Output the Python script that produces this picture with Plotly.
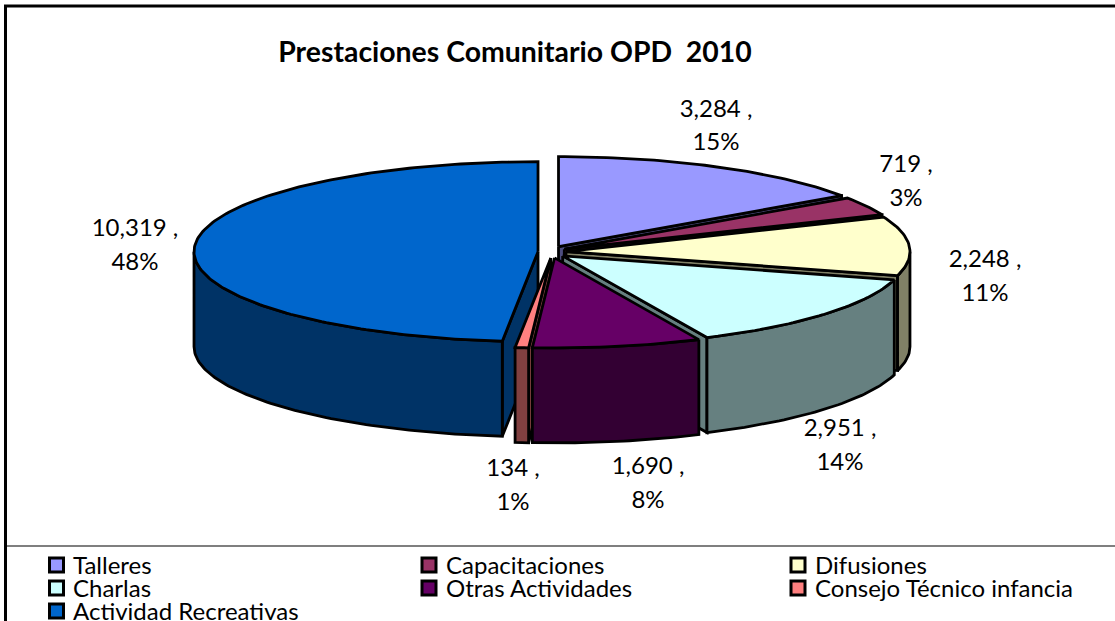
import math
import plotly.graph_objects as go

# --- data ---
categories = ["Talleres", "Capacitaciones", "Difusiones", "Charlas",
              "Otras Actividades", "Consejo Técnico infancia", "Actividad Recreativas"]
values = [3284, 719, 2248, 2951, 1690, 134, 10319]
title_text = "Prestaciones Comunitario OPD  2010"

# --- styles ---
top_colors = ["#9999FF", "#993366", "#FFFFCC", "#CCFFFF", "#660066", "#FF8080", "#0066CC"]
wall_colors = ["#4D4D80", "#4D1A33", "#808066", "#668080", "#330033", "#804040", "#003366"]
FONT = "Lato, Carlito, sans-serif"
LW = 2.8

# --- pie geometry (pixel space) ---
CX, CY = 552, 252
RX, RY = 344, 90
DEPTH = 95
EX, EY = 14, 6
draw_order = [0, 1, 2, 3, 6, 5, 4]

label_anchor = [(716, 111, 144), (906, 166, 200), (985, 261, 295), (840, 430, 464),
                (648, 468, 502), (513, 470, 504), (135, 230, 264)]
legend_swatch = [(56.5, 565), (429, 565), (798, 565), (56.5, 588), (429, 588), (798, 588), (56.5, 611)]
legend_text_x = [73, 446, 815, 73, 446, 815, 73]
legend_text_y = [568, 568, 568, 591, 591, 591, 614]

total = sum(values)
fig = go.Figure()


def add_poly(xs, ys, color, name):
    fig.add_trace(go.Scatter(x=xs + xs[:1], y=ys + ys[:1], mode="lines", fill="toself",
                             fillcolor=color, line=dict(color="black", width=LW),
                             showlegend=False, hoverinfo="name", name=name))


def pt(cx, cy, deg):
    r = math.radians(deg)
    return cx + RX * math.sin(r), cy - RY * math.cos(r)


starts = []
acc = 0.0
for v in values:
    starts.append(acc)
    acc += v / total * 360

for i in draw_order:
    a0 = starts[i]
    a1 = a0 + values[i] / total * 360
    mid = math.radians((a0 + a1) / 2)
    cx = CX + EX * math.sin(mid)
    cy = CY - EY * math.cos(mid)
    name = categories[i]
    # flat cut faces that look towards the viewer
    faces = []
    if math.sin(math.radians(a1)) > 0:
        faces.append(a1)
    if math.sin(math.radians(a0)) < 0:
        faces.append(a0)
    for f in faces:
        px, py = pt(cx, cy, f)
        add_poly([cx, px, px, cx], [cy, py, py + DEPTH, cy + DEPTH], wall_colors[i], name)
    # outer rounded wall (lower half of the ellipse only)
    w0, w1 = max(a0, 90), min(a1, 270)
    if w1 > w0:
        n = max(3, int(w1 - w0))
        arc = [pt(cx, cy, w0 + (w1 - w0) * k / n) for k in range(n + 1)]
        xs = [p[0] for p in arc] + [p[0] for p in arc[::-1]]
        ys = [p[1] for p in arc] + [p[1] + DEPTH for p in arc[::-1]]
        add_poly(xs, ys, wall_colors[i], name)
    # top face
    n = max(3, int(a1 - a0))
    arc = [pt(cx, cy, a0 + (a1 - a0) * k / n) for k in range(n + 1)]
    add_poly([cx] + [p[0] for p in arc], [cy] + [p[1] for p in arc], top_colors[i], name)

# data labels
lab_x, lab_y, lab_t = [], [], []
for v, (x, y1, y2) in zip(values, label_anchor):
    lab_x += [x, x]
    lab_y += [y1, y2]
    lab_t += [f"{v:,} ,", f"{round(v / total * 100)}%"]
fig.add_trace(go.Scatter(x=lab_x, y=lab_y, text=lab_t, mode="text", textposition="middle center",
                         textfont=dict(family=FONT, size=24, color="black"),
                         showlegend=False, hoverinfo="skip"))

# legend
fig.add_trace(go.Scatter(x=[p[0] for p in legend_swatch], y=[p[1] for p in legend_swatch],
                         mode="markers",
                         marker=dict(symbol="square", size=14, color=top_colors,
                                     line=dict(color="black", width=3)),
                         showlegend=False, hoverinfo="skip"))
fig.add_trace(go.Scatter(x=legend_text_x, y=legend_text_y, text=categories, mode="text",
                         textposition="middle right",
                         textfont=dict(family=FONT, size=24, color="black"),
                         showlegend=False, hoverinfo="skip"))

W, H = 1115, 621
fig.update_layout(
    width=W, height=H, margin=dict(l=0, r=0, t=0, b=0),
    paper_bgcolor="white", plot_bgcolor="white",
    xaxis=dict(range=[0, W], visible=False, fixedrange=True),
    yaxis=dict(range=[H, 0], visible=False, fixedrange=True),
    title=dict(text="<b>" + title_text + "</b>", x=515 / W, y=1 - 52 / H, xanchor="center",
               yanchor="middle", font=dict(family=FONT, size=28.4, color="black")),
    shapes=[
        dict(type="line", x0=5.5, x1=5.5, y0=5, y1=H, line=dict(color="black", width=3)),
        dict(type="line", x0=4, x1=W, y0=6, y1=6, line=dict(color="black", width=3)),
        dict(type="line", x0=7, x1=W, y0=546, y1=546, line=dict(color="black", width=1.2)),
    ],
)
fig.write_html("out.html", config=dict(displayModeBar=False),
               post_script="document.body.style.margin='0';")
